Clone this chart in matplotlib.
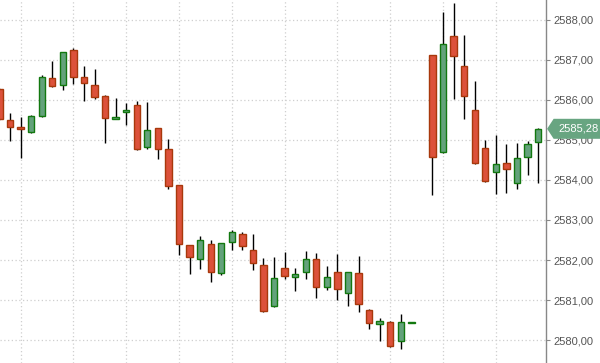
import matplotlib.pyplot as plt
from matplotlib.patches import Polygon
from matplotlib.ticker import FuncFormatter
import numpy as np

# OHLC values per bar slot (slot 40 is empty)
opens = [2586.28, 2585.50, 2585.33, 2585.19, 2585.61, 2586.54, 2586.37, 2587.25, 2586.57, 2586.37,
         2586.09, 2585.52, 2585.69, 2585.88, 2584.82, 2585.29, 2584.77, 2583.88, 2582.37, 2582.02,
         2582.39, 2581.68, 2582.46, 2582.64, 2582.25, 2581.88, 2580.86, 2581.79, 2581.58, 2581.69,
         2582.02, 2581.33, 2581.69, 2581.17, 2581.67, 2580.75, 2580.39, 2580.44, 2579.97, 2580.43,
         np.nan, 2587.13, 2584.71, 2587.60, 2586.85, 2585.75, 2584.79, 2584.21, 2584.42, 2583.92,
         2584.58, 2584.96]
highs = [2586.30, 2585.68, 2585.58, 2585.63, 2586.63, 2586.98, 2587.19, 2587.30, 2586.85, 2586.78,
         2586.13, 2586.05, 2585.93, 2585.98, 2585.95, 2585.29, 2585.03, 2583.88, 2582.37, 2582.60,
         2582.50, 2582.42, 2582.75, 2582.70, 2582.65, 2582.04, 2582.08, 2582.19, 2581.81, 2582.23,
         2582.17, 2581.85, 2582.15, 2581.69, 2582.10, 2580.78, 2580.54, 2580.48, 2580.64, 2580.43,
         np.nan, 2587.13, 2588.21, 2588.43, 2587.63, 2586.48, 2585.00, 2585.13, 2584.90, 2584.92,
         2584.98, 2585.30]
lows = [2585.50, 2584.98, 2584.56, 2585.17, 2585.58, 2586.33, 2586.25, 2586.40, 2585.98, 2586.03,
        2584.93, 2585.52, 2585.38, 2584.75, 2584.77, 2584.53, 2583.78, 2582.13, 2581.65, 2581.78,
        2581.46, 2581.63, 2582.25, 2582.25, 2581.75, 2580.70, 2580.83, 2581.53, 2581.23, 2581.53,
        2581.06, 2581.25, 2581.00, 2580.85, 2580.71, 2580.28, 2579.98, 2579.83, 2579.78, 2580.43,
        np.nan, 2583.63, 2584.68, 2586.02, 2585.52, 2584.39, 2583.96, 2583.64, 2583.68, 2583.78,
        2584.13, 2583.93]
closes = [2585.52, 2585.33, 2585.28, 2585.60, 2586.57, 2586.36, 2587.19, 2586.58, 2586.43, 2586.08,
          2585.56, 2585.58, 2585.75, 2584.78, 2585.25, 2584.78, 2583.86, 2582.39, 2582.08, 2582.50,
          2581.71, 2582.42, 2582.69, 2582.35, 2581.92, 2580.73, 2581.54, 2581.61, 2581.65, 2582.02,
          2581.33, 2581.57, 2581.27, 2581.69, 2580.91, 2580.42, 2580.48, 2579.86, 2580.44, 2580.43,
          np.nan, 2584.57, 2587.40, 2587.11, 2586.11, 2584.43, 2583.98, 2584.39, 2584.27, 2584.54,
          2584.90, 2585.28]
last_price = 2585.28
y_ticks = [2580, 2581, 2582, 2583, 2584, 2585, 2586, 2587, 2588]

o = np.array(opens)
h = np.array(highs)
l = np.array(lows)
c = np.array(closes)
x = np.arange(len(o))
ok = ~np.isnan(o)
up = c >= o

green_fill, green_edge = '#63a27b', '#12780f'
red_fill, red_edge = '#dc513a', '#a8380c'

fig = plt.figure(figsize=(6, 3.63), dpi=100)
ax = fig.add_axes([0, 0, 546 / 600, 1])

# wicks
ax.vlines(x[ok], l[ok], h[ok], color='black', lw=1.0, zorder=2)

# bodies
bottom = np.minimum(o, c)
height = np.maximum(np.abs(c - o), 0.03)
for sel, fc, ec in [(ok & up, green_fill, green_edge), (ok & ~up, red_fill, red_edge)]:
    ax.bar(x[sel], height[sel], bottom=bottom[sel], width=0.6,
           color=fc, edgecolor=ec, linewidth=1.0, zorder=3)

ax.set_xlim(0.05, 51.75)
ax.set_ylim(2579.425, 2588.5)

ax.set_xticks(np.arange(2, 52, 5))
ax.set_yticks(y_ticks)
ax.grid(True, color='#cfcfcf', linestyle=(0, (1, 2)), linewidth=0.9)
ax.set_axisbelow(True)
ax.tick_params(axis='x', length=0, labelbottom=False)
ax.yaxis.tick_right()
ax.tick_params(axis='y', direction='out', length=3, width=0.8, color='#888888',
               pad=2, labelsize=8, labelcolor='#555555')
ax.yaxis.set_major_formatter(FuncFormatter(lambda v, p: f'{v:.2f}'.replace('.', ',')))
for lab in ax.get_yticklabels():
    lab.set_fontfamily('Liberation Sans')

for s in ['top', 'left', 'bottom']:
    ax.spines[s].set_visible(False)
ax.spines['right'].set_color('#888888')
ax.spines['right'].set_linewidth(1.0)

# last price tag
trans = ax.get_yaxis_transform()
hh = 0.25
tag = Polygon([(1.002, last_price), (1.014, last_price + hh), (1.1, last_price + hh),
               (1.1, last_price - hh), (1.014, last_price - hh)],
              closed=True, transform=trans, clip_on=False, facecolor='#68a581',
              edgecolor='none', zorder=10)
ax.add_patch(tag)
ax.text(1.06, last_price, f'{last_price:.2f}'.replace('.', ','), transform=trans,
        ha='center', va='center', color='white', fontsize=8,
        family='Liberation Sans', clip_on=False, zorder=11)

fig.savefig('out.png', dpi=100, facecolor='white')
